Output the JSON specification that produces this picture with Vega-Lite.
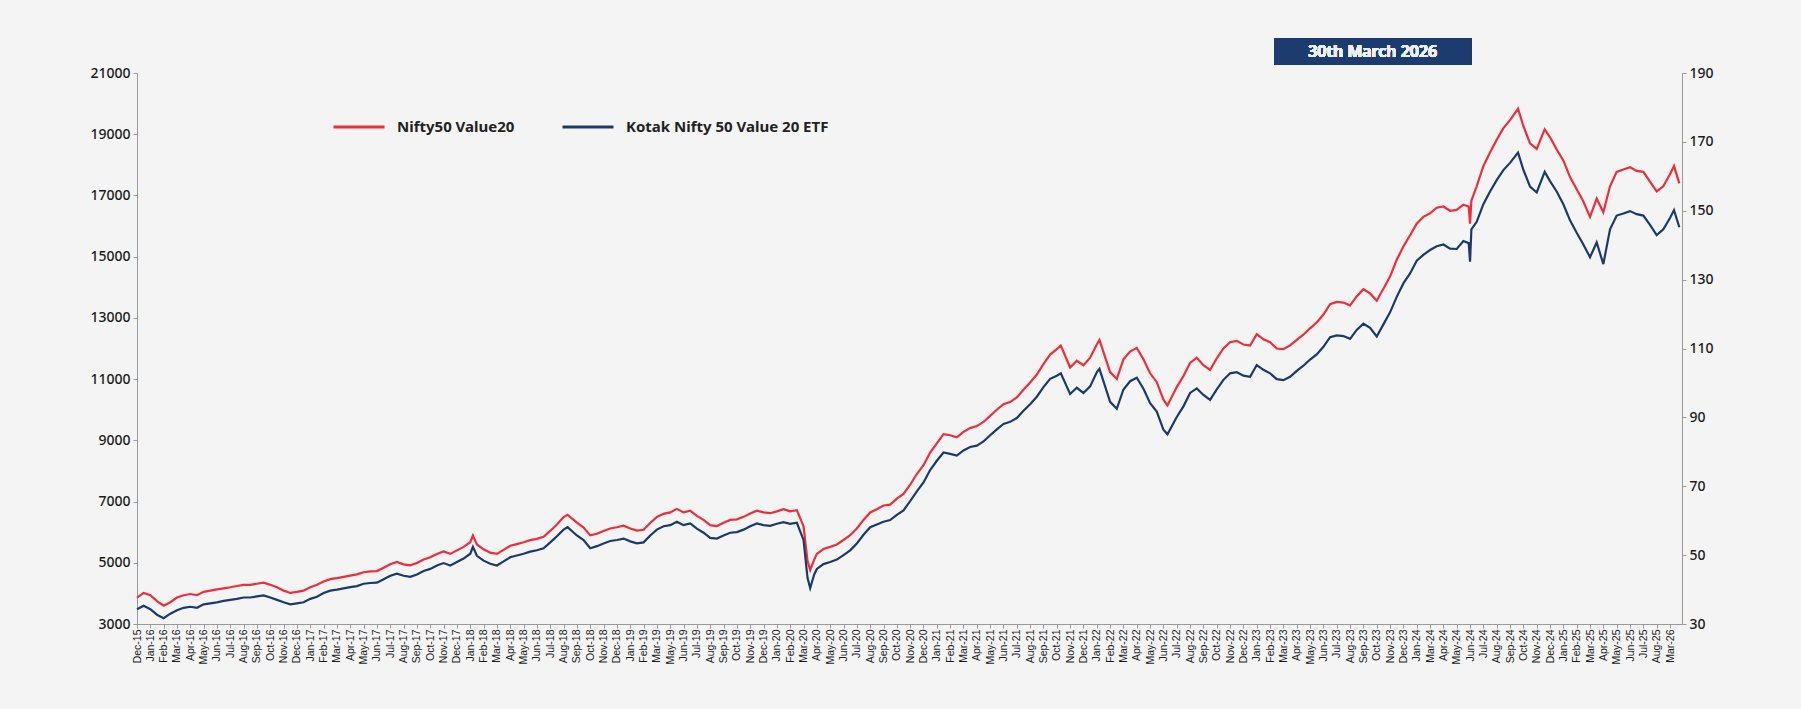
{
  "$schema": "https://vega.github.io/schema/vega-lite/v6.json",
  "width": 1545,
  "height": 551,
  "autosize": {"type": "none"},
  "padding": {"left": 137, "top": 73, "right": 119, "bottom": 85},
  "background": "#f4f4f4",
  "config": {
    "view": {"stroke": null},
    "font": "Noto Sans",
    "axis": {"grid": false, "domainColor": "#9a9a9a", "tickColor": "#9a9a9a", "tickSize": 4, "labelColor": "#1a1a1a", "title": null}
  },
  "data": {
    "values": [
      {"idx": 0, "nifty": 3860, "kotak": 34.3},
      {"idx": 0.5, "nifty": 4015, "kotak": 35.3},
      {"idx": 1, "nifty": 3940, "kotak": 34.3},
      {"idx": 1.5, "nifty": 3750, "kotak": 32.7},
      {"idx": 2, "nifty": 3600, "kotak": 31.7},
      {"idx": 2.5, "nifty": 3710, "kotak": 33.0},
      {"idx": 3, "nifty": 3865, "kotak": 34.0},
      {"idx": 3.5, "nifty": 3940, "kotak": 34.7},
      {"idx": 4, "nifty": 3980, "kotak": 35.0},
      {"idx": 4.5, "nifty": 3940, "kotak": 34.7},
      {"idx": 5, "nifty": 4050, "kotak": 35.7},
      {"idx": 5.5, "nifty": 4090, "kotak": 36.0},
      {"idx": 6, "nifty": 4130, "kotak": 36.3},
      {"idx": 6.5, "nifty": 4165, "kotak": 36.7},
      {"idx": 7, "nifty": 4200, "kotak": 37.0},
      {"idx": 7.5, "nifty": 4240, "kotak": 37.3},
      {"idx": 8, "nifty": 4280, "kotak": 37.7},
      {"idx": 8.5, "nifty": 4280, "kotak": 37.7},
      {"idx": 9, "nifty": 4315, "kotak": 38.0},
      {"idx": 9.5, "nifty": 4350, "kotak": 38.3},
      {"idx": 10, "nifty": 4280, "kotak": 37.7},
      {"idx": 10.5, "nifty": 4200, "kotak": 37.0},
      {"idx": 11, "nifty": 4090, "kotak": 36.3},
      {"idx": 11.5, "nifty": 4015, "kotak": 35.7},
      {"idx": 12, "nifty": 4050, "kotak": 36.0},
      {"idx": 12.5, "nifty": 4090, "kotak": 36.3},
      {"idx": 13, "nifty": 4200, "kotak": 37.3},
      {"idx": 13.5, "nifty": 4280, "kotak": 37.9},
      {"idx": 14, "nifty": 4390, "kotak": 39.0},
      {"idx": 14.5, "nifty": 4465, "kotak": 39.7},
      {"idx": 15, "nifty": 4500, "kotak": 40.0},
      {"idx": 16, "nifty": 4580, "kotak": 40.7},
      {"idx": 16.5, "nifty": 4620, "kotak": 41.0},
      {"idx": 17, "nifty": 4690, "kotak": 41.7},
      {"idx": 17.5, "nifty": 4720, "kotak": 41.9},
      {"idx": 18, "nifty": 4730, "kotak": 42.0},
      {"idx": 18.5, "nifty": 4840, "kotak": 43.0},
      {"idx": 19, "nifty": 4950, "kotak": 44.0},
      {"idx": 19.5, "nifty": 5030, "kotak": 44.6},
      {"idx": 20, "nifty": 4950, "kotak": 44.0},
      {"idx": 20.5, "nifty": 4915, "kotak": 43.7},
      {"idx": 21, "nifty": 4990, "kotak": 44.4},
      {"idx": 21.5, "nifty": 5105, "kotak": 45.4},
      {"idx": 22, "nifty": 5180, "kotak": 46.0},
      {"idx": 22.5, "nifty": 5290, "kotak": 47.0},
      {"idx": 23, "nifty": 5370, "kotak": 47.7},
      {"idx": 23.5, "nifty": 5290, "kotak": 47.0},
      {"idx": 24, "nifty": 5405, "kotak": 48.0},
      {"idx": 24.5, "nifty": 5520, "kotak": 49.0},
      {"idx": 25, "nifty": 5670, "kotak": 50.4},
      {"idx": 25.2, "nifty": 5890, "kotak": 52.4},
      {"idx": 25.5, "nifty": 5600, "kotak": 49.8},
      {"idx": 26, "nifty": 5440, "kotak": 48.4},
      {"idx": 26.5, "nifty": 5330, "kotak": 47.5},
      {"idx": 27, "nifty": 5290, "kotak": 47.0},
      {"idx": 27.5, "nifty": 5420, "kotak": 48.2},
      {"idx": 28, "nifty": 5555, "kotak": 49.4},
      {"idx": 28.5, "nifty": 5610, "kotak": 49.9},
      {"idx": 29, "nifty": 5670, "kotak": 50.4},
      {"idx": 29.5, "nifty": 5740, "kotak": 51.0},
      {"idx": 30, "nifty": 5780, "kotak": 51.4},
      {"idx": 30.5, "nifty": 5850, "kotak": 52.0},
      {"idx": 31, "nifty": 6040, "kotak": 53.7},
      {"idx": 31.5, "nifty": 6250, "kotak": 55.5},
      {"idx": 32, "nifty": 6495, "kotak": 57.4},
      {"idx": 32.3, "nifty": 6570, "kotak": 58.1},
      {"idx": 33, "nifty": 6310, "kotak": 55.7},
      {"idx": 33.5, "nifty": 6150, "kotak": 54.4},
      {"idx": 34, "nifty": 5895, "kotak": 52.0},
      {"idx": 34.5, "nifty": 5950, "kotak": 52.6},
      {"idx": 35, "nifty": 6040, "kotak": 53.4},
      {"idx": 35.5, "nifty": 6120, "kotak": 54.1},
      {"idx": 36, "nifty": 6160, "kotak": 54.4},
      {"idx": 36.5, "nifty": 6210, "kotak": 54.8},
      {"idx": 37, "nifty": 6120, "kotak": 54.0},
      {"idx": 37.5, "nifty": 6050, "kotak": 53.4},
      {"idx": 38, "nifty": 6080, "kotak": 53.7},
      {"idx": 38.5, "nifty": 6300, "kotak": 55.7},
      {"idx": 39, "nifty": 6495, "kotak": 57.4},
      {"idx": 39.5, "nifty": 6600, "kotak": 58.4},
      {"idx": 40, "nifty": 6645, "kotak": 58.7},
      {"idx": 40.5, "nifty": 6760, "kotak": 59.7},
      {"idx": 41, "nifty": 6645, "kotak": 58.7},
      {"idx": 41.5, "nifty": 6700, "kotak": 59.2},
      {"idx": 42, "nifty": 6530, "kotak": 57.7},
      {"idx": 42.5, "nifty": 6400, "kotak": 56.5},
      {"idx": 43, "nifty": 6230, "kotak": 55.0},
      {"idx": 43.5, "nifty": 6200, "kotak": 54.8},
      {"idx": 44, "nifty": 6310, "kotak": 55.7},
      {"idx": 44.5, "nifty": 6400, "kotak": 56.5},
      {"idx": 45, "nifty": 6420, "kotak": 56.7},
      {"idx": 45.5, "nifty": 6500, "kotak": 57.4},
      {"idx": 46, "nifty": 6610, "kotak": 58.4},
      {"idx": 46.5, "nifty": 6700, "kotak": 59.2},
      {"idx": 47, "nifty": 6645, "kotak": 58.7},
      {"idx": 47.5, "nifty": 6620, "kotak": 58.5},
      {"idx": 48, "nifty": 6680, "kotak": 59.1},
      {"idx": 48.5, "nifty": 6750, "kotak": 59.6},
      {"idx": 49, "nifty": 6680, "kotak": 59.1},
      {"idx": 49.5, "nifty": 6720, "kotak": 59.4},
      {"idx": 50, "nifty": 6195, "kotak": 54.4},
      {"idx": 50.3, "nifty": 5065, "kotak": 43.4},
      {"idx": 50.5, "nifty": 4765, "kotak": 40.4},
      {"idx": 50.8, "nifty": 5105, "kotak": 44.4},
      {"idx": 51, "nifty": 5290, "kotak": 46.0},
      {"idx": 51.5, "nifty": 5450, "kotak": 47.4},
      {"idx": 52, "nifty": 5520, "kotak": 48.0},
      {"idx": 52.5, "nifty": 5600, "kotak": 48.7},
      {"idx": 53, "nifty": 5745, "kotak": 50.0},
      {"idx": 53.5, "nifty": 5900, "kotak": 51.4},
      {"idx": 54, "nifty": 6120, "kotak": 53.4},
      {"idx": 54.5, "nifty": 6400, "kotak": 55.9},
      {"idx": 55, "nifty": 6645, "kotak": 58.1},
      {"idx": 55.5, "nifty": 6750, "kotak": 58.9},
      {"idx": 56, "nifty": 6870, "kotak": 59.7},
      {"idx": 56.5, "nifty": 6900, "kotak": 60.2},
      {"idx": 57, "nifty": 7095, "kotak": 61.7},
      {"idx": 57.5, "nifty": 7250, "kotak": 63.0},
      {"idx": 58, "nifty": 7550, "kotak": 65.7},
      {"idx": 58.5, "nifty": 7900, "kotak": 68.5},
      {"idx": 59, "nifty": 8185, "kotak": 71.1},
      {"idx": 59.5, "nifty": 8600, "kotak": 74.7},
      {"idx": 60, "nifty": 8900, "kotak": 77.4},
      {"idx": 60.5, "nifty": 9200, "kotak": 79.8},
      {"idx": 61, "nifty": 9165, "kotak": 79.4},
      {"idx": 61.5, "nifty": 9100, "kotak": 78.9},
      {"idx": 62, "nifty": 9275, "kotak": 80.4},
      {"idx": 62.5, "nifty": 9400, "kotak": 81.4},
      {"idx": 63, "nifty": 9465, "kotak": 81.8},
      {"idx": 63.5, "nifty": 9600, "kotak": 83.0},
      {"idx": 64, "nifty": 9800, "kotak": 84.8},
      {"idx": 64.5, "nifty": 10000, "kotak": 86.5},
      {"idx": 65, "nifty": 10180, "kotak": 88.1},
      {"idx": 65.5, "nifty": 10250, "kotak": 88.7},
      {"idx": 66, "nifty": 10400, "kotak": 89.8},
      {"idx": 66.5, "nifty": 10650, "kotak": 91.9},
      {"idx": 67, "nifty": 10890, "kotak": 93.8},
      {"idx": 67.5, "nifty": 11150, "kotak": 96.0},
      {"idx": 68, "nifty": 11490, "kotak": 98.8},
      {"idx": 68.5, "nifty": 11800, "kotak": 101.2},
      {"idx": 69, "nifty": 11980, "kotak": 102.1},
      {"idx": 69.3, "nifty": 12095, "kotak": 102.8},
      {"idx": 70, "nifty": 11380, "kotak": 96.8},
      {"idx": 70.5, "nifty": 11600, "kotak": 98.6},
      {"idx": 71, "nifty": 11455, "kotak": 97.1},
      {"idx": 71.5, "nifty": 11700, "kotak": 99.0},
      {"idx": 72, "nifty": 12130, "kotak": 103.1},
      {"idx": 72.2, "nifty": 12280, "kotak": 104.1},
      {"idx": 73, "nifty": 11230, "kotak": 94.5},
      {"idx": 73.5, "nifty": 11005, "kotak": 92.5},
      {"idx": 74, "nifty": 11645, "kotak": 98.1},
      {"idx": 74.5, "nifty": 11900, "kotak": 100.5},
      {"idx": 75, "nifty": 12020, "kotak": 101.5},
      {"idx": 75.5, "nifty": 11650, "kotak": 98.3},
      {"idx": 76, "nifty": 11190, "kotak": 94.1},
      {"idx": 76.5, "nifty": 10900, "kotak": 91.7},
      {"idx": 77, "nifty": 10330, "kotak": 86.4},
      {"idx": 77.3, "nifty": 10140, "kotak": 85.1},
      {"idx": 78, "nifty": 10740, "kotak": 90.1},
      {"idx": 78.5, "nifty": 11100, "kotak": 93.2},
      {"idx": 79, "nifty": 11530, "kotak": 97.1},
      {"idx": 79.5, "nifty": 11700, "kotak": 98.4},
      {"idx": 80, "nifty": 11455, "kotak": 96.5},
      {"idx": 80.5, "nifty": 11300, "kotak": 95.1},
      {"idx": 81, "nifty": 11680, "kotak": 98.1},
      {"idx": 81.5, "nifty": 12000, "kotak": 100.9},
      {"idx": 82, "nifty": 12205, "kotak": 102.8},
      {"idx": 82.5, "nifty": 12250, "kotak": 103.1},
      {"idx": 83, "nifty": 12130, "kotak": 102.1},
      {"idx": 83.5, "nifty": 12100, "kotak": 101.8},
      {"idx": 84, "nifty": 12470, "kotak": 105.2},
      {"idx": 84.5, "nifty": 12300, "kotak": 103.8},
      {"idx": 85, "nifty": 12205, "kotak": 102.8},
      {"idx": 85.5, "nifty": 12000, "kotak": 101.1},
      {"idx": 86, "nifty": 11980, "kotak": 100.8},
      {"idx": 86.5, "nifty": 12100, "kotak": 101.8},
      {"idx": 87, "nifty": 12280, "kotak": 103.5},
      {"idx": 87.5, "nifty": 12450, "kotak": 105.0},
      {"idx": 88, "nifty": 12660, "kotak": 106.8},
      {"idx": 88.5, "nifty": 12850, "kotak": 108.3},
      {"idx": 89, "nifty": 13110, "kotak": 110.5},
      {"idx": 89.5, "nifty": 13450, "kotak": 113.3},
      {"idx": 90, "nifty": 13520, "kotak": 113.8},
      {"idx": 90.5, "nifty": 13500, "kotak": 113.6},
      {"idx": 91, "nifty": 13410, "kotak": 112.8},
      {"idx": 91.5, "nifty": 13700, "kotak": 115.4},
      {"idx": 92, "nifty": 13935, "kotak": 117.2},
      {"idx": 92.5, "nifty": 13800, "kotak": 116.0},
      {"idx": 93, "nifty": 13560, "kotak": 113.5},
      {"idx": 93.5, "nifty": 13950, "kotak": 117.0},
      {"idx": 94, "nifty": 14350, "kotak": 120.5},
      {"idx": 94.5, "nifty": 14900, "kotak": 125.0},
      {"idx": 95, "nifty": 15330, "kotak": 128.9},
      {"idx": 95.5, "nifty": 15700, "kotak": 131.8},
      {"idx": 96, "nifty": 16080, "kotak": 135.5},
      {"idx": 96.5, "nifty": 16300, "kotak": 137.2},
      {"idx": 97, "nifty": 16415, "kotak": 138.6},
      {"idx": 97.5, "nifty": 16600, "kotak": 139.7},
      {"idx": 98, "nifty": 16640, "kotak": 140.2},
      {"idx": 98.5, "nifty": 16500, "kotak": 139.0},
      {"idx": 99, "nifty": 16530, "kotak": 138.9},
      {"idx": 99.5, "nifty": 16700, "kotak": 141.2},
      {"idx": 99.9, "nifty": 16640, "kotak": 140.6},
      {"idx": 100, "nifty": 16080, "kotak": 135.2},
      {"idx": 100.1, "nifty": 16830, "kotak": 144.6},
      {"idx": 100.5, "nifty": 17300, "kotak": 146.8},
      {"idx": 101, "nifty": 17960, "kotak": 151.9},
      {"idx": 101.5, "nifty": 18400, "kotak": 155.6},
      {"idx": 102, "nifty": 18820, "kotak": 158.9},
      {"idx": 102.5, "nifty": 19200, "kotak": 161.8},
      {"idx": 103, "nifty": 19460, "kotak": 163.9},
      {"idx": 103.6, "nifty": 19835, "kotak": 166.9},
      {"idx": 104, "nifty": 19270, "kotak": 161.9},
      {"idx": 104.5, "nifty": 18700, "kotak": 157.0},
      {"idx": 105, "nifty": 18520, "kotak": 155.3},
      {"idx": 105.6, "nifty": 19160, "kotak": 161.3},
      {"idx": 106, "nifty": 18900, "kotak": 158.6},
      {"idx": 106.5, "nifty": 18500, "kotak": 155.6},
      {"idx": 107, "nifty": 18145, "kotak": 151.9},
      {"idx": 107.5, "nifty": 17600, "kotak": 147.2},
      {"idx": 108, "nifty": 17205, "kotak": 143.6},
      {"idx": 108.5, "nifty": 16800, "kotak": 140.2},
      {"idx": 109, "nifty": 16300, "kotak": 136.5},
      {"idx": 109.5, "nifty": 16900, "kotak": 140.8},
      {"idx": 110, "nifty": 16450, "kotak": 134.5},
      {"idx": 110.5, "nifty": 17300, "kotak": 144.6},
      {"idx": 111, "nifty": 17770, "kotak": 148.6},
      {"idx": 111.5, "nifty": 17850, "kotak": 149.2},
      {"idx": 112, "nifty": 17920, "kotak": 149.9},
      {"idx": 112.5, "nifty": 17800, "kotak": 149.0},
      {"idx": 113, "nifty": 17770, "kotak": 148.6},
      {"idx": 113.5, "nifty": 17450, "kotak": 145.9},
      {"idx": 114, "nifty": 17130, "kotak": 142.9},
      {"idx": 114.5, "nifty": 17300, "kotak": 144.6},
      {"idx": 115, "nifty": 17695, "kotak": 147.9},
      {"idx": 115.3, "nifty": 17960, "kotak": 150.2},
      {"idx": 115.7, "nifty": 17395, "kotak": 145.2}
    ]
  },
  "encoding": {
    "x": {
      "field": "idx", "type": "quantitative",
      "scale": {"domain": [0, 115.9], "nice": false, "zero": false},
      "axis": {
        "values": [0,1,2,3,4,5,6,7,8,9,10,11,12,13,14,15,16,17,18,19,20,21,22,23,24,25,26,27,28,29,30,31,32,33,34,35,36,37,38,39,40,41,42,43,44,45,46,47,48,49,50,51,52,53,54,55,56,57,58,59,60,61,62,63,64,65,66,67,68,69,70,71,72,73,74,75,76,77,78,79,80,81,82,83,84,85,86,87,88,89,90,91,92,93,94,95,96,97,98,99,100,101,102,103,104,105,106,107,108,109,110,111,112,113,114,115],
        "tickCount": 116,
        "labelExpr": "['Dec-15','Jan-16','Feb-16','Mar-16','Apr-16','May-16','Jun-16','Jul-16','Aug-16','Sep-16','Oct-16','Nov-16','Dec-16','Jan-17','Feb-17','Mar-17','Apr-17','May-17','Jun-17','Jul-17','Aug-17','Sep-17','Oct-17','Nov-17','Dec-17','Jan-18','Feb-18','Mar-18','Apr-18','May-18','Jun-18','Jul-18','Aug-18','Sep-18','Oct-18','Nov-18','Dec-18','Jan-19','Feb-19','Mar-19','May-19','Jun-19','Jul-19','Aug-19','Sep-19','Oct-19','Nov-19','Dec-19','Jan-20','Feb-20','Mar-20','Apr-20','May-20','Jun-20','Jul-20','Aug-20','Sep-20','Oct-20','Nov-20','Dec-20','Jan-21','Feb-21','Mar-21','Apr-21','May-21','Jun-21','Jul-21','Aug-21','Sep-21','Oct-21','Nov-21','Dec-21','Jan-22','Feb-22','Mar-22','Apr-22','May-22','Jun-22','Jul-22','Aug-22','Sep-22','Oct-22','Nov-22','Dec-22','Jan-23','Feb-23','Mar-23','Apr-23','May-23','Jun-23','Jul-23','Aug-23','Sep-23','Oct-23','Nov-23','Dec-23','Jan-24','Mar-24','Apr-24','May-24','Jun-24','Jul-24','Aug-24','Sep-24','Oct-24','Nov-24','Dec-24','Jan-25','Feb-25','Mar-25','Apr-25','May-25','Jun-25','Jul-25','Aug-25','Mar-26'][datum.value]",
        "labelOverlap": false,
        "labelAngle": 270,
        "labelFont": "Liberation Sans",
        "labelFontSize": 10.5,
        "labelPadding": 1,
        "labelFlush": false,
        "labelBound": false,
        "labelSeparation": 0
      }
    }
  },
  "layer": [
    {
      "mark": {"type": "line", "strokeWidth": 2.2, "clip": false},
      "encoding": {
        "y": {
          "field": "nifty", "type": "quantitative",
          "scale": {"domain": [3000, 21000], "nice": false, "zero": false},
          "axis": {"orient": "left", "values": [3000,5000,7000,9000,11000,13000,15000,17000,19000,21000], "format": "d", "labelFontSize": 14, "labelFontWeight": 500, "labelPadding": 3}
        },
        "color": {
          "datum": "Nifty50 Value20",
          "scale": {"domain": ["Nifty50 Value20", "Kotak Nifty 50 Value 20 ETF"], "range": ["#ee2e3a", "#1b3a6b"]},
          "legend": {
            "orient": "none", "legendX": 195, "legendY": 27, "direction": "horizontal", "title": null,
            "symbolType": "stroke", "symbolStrokeWidth": 3, "symbolSize": 2601,
            "labelFontSize": 15, "labelFontWeight": "bold", "labelColor": "#222222", "labelLimit": 500,
            "labelOffset": 11, "columnPadding": 41
          }
        }
      }
    },
    {
      "mark": {"type": "line", "strokeWidth": 2.2, "clip": false},
      "encoding": {
        "y": {
          "field": "kotak", "type": "quantitative",
          "scale": {"domain": [30, 190], "nice": false, "zero": false},
          "axis": {"orient": "right", "values": [30,50,70,90,110,130,150,170,190], "labelFontSize": 14, "labelFontWeight": 500, "labelPadding": 3}
        },
        "color": {"datum": "Kotak Nifty 50 Value 20 ETF"}
      }
    },
    {
      "mark": {"type": "rect", "fill": "#1c3b6e", "clip": false},
      "encoding": {
        "x": {
          "datum": 85.3, "type": "quantitative",
          "scale": {"domain": [0, 115.9], "nice": false, "zero": false},
          "axis": {
            "values": [0,1,2,3,4,5,6,7,8,9,10,11,12,13,14,15,16,17,18,19,20,21,22,23,24,25,26,27,28,29,30,31,32,33,34,35,36,37,38,39,40,41,42,43,44,45,46,47,48,49,50,51,52,53,54,55,56,57,58,59,60,61,62,63,64,65,66,67,68,69,70,71,72,73,74,75,76,77,78,79,80,81,82,83,84,85,86,87,88,89,90,91,92,93,94,95,96,97,98,99,100,101,102,103,104,105,106,107,108,109,110,111,112,113,114,115],
            "tickCount": 116,
            "labelExpr": "['Dec-15','Jan-16','Feb-16','Mar-16','Apr-16','May-16','Jun-16','Jul-16','Aug-16','Sep-16','Oct-16','Nov-16','Dec-16','Jan-17','Feb-17','Mar-17','Apr-17','May-17','Jun-17','Jul-17','Aug-17','Sep-17','Oct-17','Nov-17','Dec-17','Jan-18','Feb-18','Mar-18','Apr-18','May-18','Jun-18','Jul-18','Aug-18','Sep-18','Oct-18','Nov-18','Dec-18','Jan-19','Feb-19','Mar-19','May-19','Jun-19','Jul-19','Aug-19','Sep-19','Oct-19','Nov-19','Dec-19','Jan-20','Feb-20','Mar-20','Apr-20','May-20','Jun-20','Jul-20','Aug-20','Sep-20','Oct-20','Nov-20','Dec-20','Jan-21','Feb-21','Mar-21','Apr-21','May-21','Jun-21','Jul-21','Aug-21','Sep-21','Oct-21','Nov-21','Dec-21','Jan-22','Feb-22','Mar-22','Apr-22','May-22','Jun-22','Jul-22','Aug-22','Sep-22','Oct-22','Nov-22','Dec-22','Jan-23','Feb-23','Mar-23','Apr-23','May-23','Jun-23','Jul-23','Aug-23','Sep-23','Oct-23','Nov-23','Dec-23','Jan-24','Mar-24','Apr-24','May-24','Jun-24','Jul-24','Aug-24','Sep-24','Oct-24','Nov-24','Dec-24','Jan-25','Feb-25','Mar-25','Apr-25','May-25','Jun-25','Jul-25','Aug-25','Mar-26'][datum.value]",
            "labelOverlap": false,
            "labelAngle": 270,
            "labelFont": "Liberation Sans",
            "labelFontSize": 10.5,
            "labelPadding": 1,
            "labelFlush": false,
            "labelBound": false,
            "labelSeparation": 0
          }
        },
        "x2": {"datum": 100.1},
        "y": {"datum": 22119, "type": "quantitative", "scale": {"domain": [3000, 21000], "nice": false, "zero": false}, "axis": null},
        "y2": {"datum": 21268}
      }
    },
    {
      "mark": {"type": "text", "fill": "#eef0f5", "fontSize": 16, "fontWeight": 600, "font": "Noto Sans", "align": "center", "baseline": "middle", "clip": false, "text": "30th March 2026"},
      "encoding": {
        "x": {
          "datum": 92.7, "type": "quantitative",
          "scale": {"domain": [0, 115.9], "nice": false, "zero": false},
          "axis": {
            "values": [0,1,2,3,4,5,6,7,8,9,10,11,12,13,14,15,16,17,18,19,20,21,22,23,24,25,26,27,28,29,30,31,32,33,34,35,36,37,38,39,40,41,42,43,44,45,46,47,48,49,50,51,52,53,54,55,56,57,58,59,60,61,62,63,64,65,66,67,68,69,70,71,72,73,74,75,76,77,78,79,80,81,82,83,84,85,86,87,88,89,90,91,92,93,94,95,96,97,98,99,100,101,102,103,104,105,106,107,108,109,110,111,112,113,114,115],
            "tickCount": 116,
            "labelExpr": "['Dec-15','Jan-16','Feb-16','Mar-16','Apr-16','May-16','Jun-16','Jul-16','Aug-16','Sep-16','Oct-16','Nov-16','Dec-16','Jan-17','Feb-17','Mar-17','Apr-17','May-17','Jun-17','Jul-17','Aug-17','Sep-17','Oct-17','Nov-17','Dec-17','Jan-18','Feb-18','Mar-18','Apr-18','May-18','Jun-18','Jul-18','Aug-18','Sep-18','Oct-18','Nov-18','Dec-18','Jan-19','Feb-19','Mar-19','May-19','Jun-19','Jul-19','Aug-19','Sep-19','Oct-19','Nov-19','Dec-19','Jan-20','Feb-20','Mar-20','Apr-20','May-20','Jun-20','Jul-20','Aug-20','Sep-20','Oct-20','Nov-20','Dec-20','Jan-21','Feb-21','Mar-21','Apr-21','May-21','Jun-21','Jul-21','Aug-21','Sep-21','Oct-21','Nov-21','Dec-21','Jan-22','Feb-22','Mar-22','Apr-22','May-22','Jun-22','Jul-22','Aug-22','Sep-22','Oct-22','Nov-22','Dec-22','Jan-23','Feb-23','Mar-23','Apr-23','May-23','Jun-23','Jul-23','Aug-23','Sep-23','Oct-23','Nov-23','Dec-23','Jan-24','Mar-24','Apr-24','May-24','Jun-24','Jul-24','Aug-24','Sep-24','Oct-24','Nov-24','Dec-24','Jan-25','Feb-25','Mar-25','Apr-25','May-25','Jun-25','Jul-25','Aug-25','Mar-26'][datum.value]",
            "labelOverlap": false,
            "labelAngle": 270,
            "labelFont": "Liberation Sans",
            "labelFontSize": 10.5,
            "labelPadding": 1,
            "labelFlush": false,
            "labelBound": false,
            "labelSeparation": 0
          }
        },
        "y": {"datum": 21693, "type": "quantitative", "scale": {"domain": [3000, 21000], "nice": false, "zero": false}, "axis": null}
      }
    }
  ],
  "resolve": {"scale": {"y": "independent"}}
}
